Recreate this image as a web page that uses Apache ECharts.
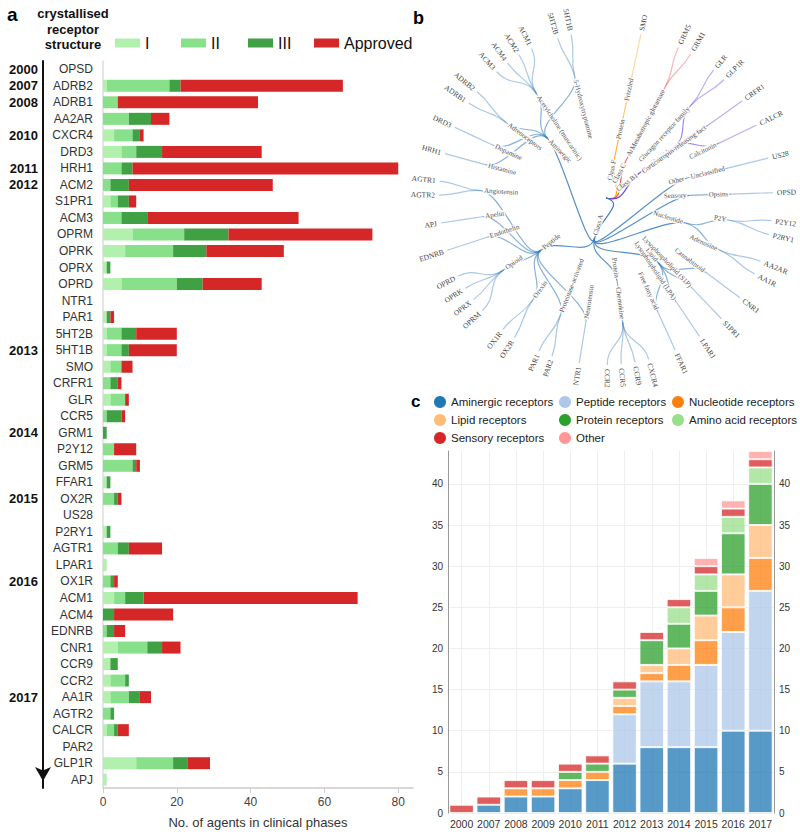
<!DOCTYPE html>
<html>
<head>
<meta charset="utf-8">
<title>GPCR structures and clinical agents</title>
<script src="https://cdn.jsdelivr.net/npm/echarts@6/dist/echarts.min.js"></script>
<style>
  html, body { margin: 0; padding: 0; background: #fff; }
  #chart { width: 800px; height: 837px; }
</style>
</head>
<body>
<div id="chart"></div>
<script>
// ---- panel a: agents per receptor, ordered by year of first structure
const receptors = ['OPSD', 'ADRB2', 'ADRB1', 'AA2AR', 'CXCR4', 'DRD3', 'HRH1', 'ACM2', 'S1PR1', 'ACM3',
  'OPRM', 'OPRK', 'OPRX', 'OPRD', 'NTR1', 'PAR1', '5HT2B', '5HT1B', 'SMO', 'CRFR1',
  'GLR', 'CCR5', 'GRM1', 'P2Y12', 'GRM5', 'FFAR1', 'OX2R', 'US28', 'P2RY1', 'AGTR1',
  'LPAR1', 'OX1R', 'ACM1', 'ACM4', 'EDNRB', 'CNR1', 'CCR9', 'CCR2', 'AA1R', 'AGTR2',
  'CALCR', 'PAR2', 'GLP1R', 'APJ'];
const phaseI = [0, 1, 0, 0, 3, 5, 0, 0, 2, 0, 8, 6, 1, 5, 0, 1, 1, 1, 2, 0,
  2, 0, 0, 0, 0, 1, 0, 0, 1, 0, 1, 0, 3, 0, 0, 4, 2, 2, 2, 0, 1, 0, 9, 1];
const phaseII = [0, 17, 4, 7, 5, 4, 5, 2, 2, 5, 14, 13, 0, 15, 0, 0, 4, 4, 3, 2,
  4, 1, 0, 3, 8, 0, 3, 0, 0, 4, 0, 2, 3, 0, 1, 8, 0, 4, 5, 2, 2, 0, 10, 0];
const phaseIII = [0, 3, 0, 6, 2, 7, 3, 5, 3, 7, 12, 9, 1, 7, 0, 1, 4, 2, 0, 2,
  0, 4, 1, 0, 1, 1, 1, 0, 1, 3, 0, 1, 5, 3, 2, 4, 2, 1, 3, 1, 1, 0, 4, 0];
const approved = [0, 44, 38, 5, 1, 27, 72, 39, 2, 41, 39, 21, 0, 16, 0, 1, 11, 13, 3, 1,
  1, 1, 0, 6, 1, 0, 1, 0, 0, 9, 0, 1, 58, 16, 3, 5, 0, 0, 3, 0, 3, 0, 6, 0];
const yearReceptors = ['OPSD', 'ADRB2', 'ADRB1', 'CXCR4', 'HRH1', 'ACM2', '5HT1B', 'GRM1', 'OX2R', 'OX1R', 'AA1R'];
const yearLabels = ['2000', '2007', '2008', '2010', '2011', '2012', '2013', '2014', '2015', '2016', '2017'];

// ---- panel b: receptor classification, listed clockwise from the top
const treeRows = [
  ['Class F', 'Protein', 'Frizzled', 'SMO'],
  ['Class C', 'Amino acid', 'Metabotropic glutamate', 'GRM5'],
  ['Class C', 'Amino acid', 'Metabotropic glutamate', 'GRM1'],
  ['Class B1', 'Peptide', 'Glucagon receptor family', 'GLR'],
  ['Class B1', 'Peptide', 'Glucagon receptor family', 'GLP1R'],
  ['Class B1', 'Peptide', 'Corticotropin-releasing fact', 'CRFR1'],
  ['Class B1', 'Peptide', 'Calcitonin', 'CALCR'],
  ['Class A', 'Other', 'Unclassified', 'US28'],
  ['Class A', 'Sensory', 'Opsins', 'OPSD'],
  ['Class A', 'Nucleotide', 'P2Y', 'P2Y12'],
  ['Class A', 'Nucleotide', 'P2Y', 'P2RY1'],
  ['Class A', 'Nucleotide', 'Adenosine', 'AA2AR'],
  ['Class A', 'Nucleotide', 'Adenosine', 'AA1R'],
  ['Class A', 'Lipid', 'Cannabinoid', 'CNR1'],
  ['Class A', 'Lipid', 'Lysophospholipid (S1P)', 'S1PR1'],
  ['Class A', 'Lipid', 'Lysophospholipid (LPA)', 'LPAR1'],
  ['Class A', 'Lipid', 'Free fatty acid', 'FFAR1'],
  ['Class A', 'Protein', 'Chemokine', 'CXCR4'],
  ['Class A', 'Protein', 'Chemokine', 'CCR9'],
  ['Class A', 'Protein', 'Chemokine', 'CCR5'],
  ['Class A', 'Protein', 'Chemokine', 'CCR2'],
  ['Class A', 'Peptide', 'Neurotensin', 'NTR1'],
  ['Class A', 'Peptide', 'Proteinase-activated', 'PAR2'],
  ['Class A', 'Peptide', 'Proteinase-activated', 'PAR1'],
  ['Class A', 'Peptide', 'Orexin', 'OX2R'],
  ['Class A', 'Peptide', 'Orexin', 'OX1R'],
  ['Class A', 'Peptide', 'Opioid', 'OPRM'],
  ['Class A', 'Peptide', 'Opioid', 'OPRX'],
  ['Class A', 'Peptide', 'Opioid', 'OPRK'],
  ['Class A', 'Peptide', 'Opioid', 'OPRD'],
  ['Class A', 'Peptide', 'Endothelin', 'EDNRB'],
  ['Class A', 'Peptide', 'Apelin', 'APJ'],
  ['Class A', 'Peptide', 'Angiotensin', 'AGTR2'],
  ['Class A', 'Peptide', 'Angiotensin', 'AGTR1'],
  ['Class A', 'Aminergic', 'Histamine', 'HRH1'],
  ['Class A', 'Aminergic', 'Dopamine', 'DRD3'],
  ['Class A', 'Aminergic', 'Adrenoceptors', 'ADRB1'],
  ['Class A', 'Aminergic', 'Adrenoceptors', 'ADRB2'],
  ['Class A', 'Aminergic', 'Acetylcholine (muscarinic)', 'ACM3'],
  ['Class A', 'Aminergic', 'Acetylcholine (muscarinic)', 'ACM4'],
  ['Class A', 'Aminergic', 'Acetylcholine (muscarinic)', 'ACM2'],
  ['Class A', 'Aminergic', 'Acetylcholine (muscarinic)', 'ACM1'],
  ['Class A', 'Aminergic', '5-Hydroxytryptamine', '5HT2B'],
  ['Class A', 'Aminergic', '5-Hydroxytryptamine', '5HT1B']
];

// ---- panel c: cumulative crystallised receptors per year
const years = ['2000', '2007', '2008', '2009', '2010', '2011', '2012', '2013', '2014', '2015', '2016', '2017'];
const aminergic = [0, 1, 2, 2, 3, 4, 6, 8, 8, 8, 10, 10];
const peptide = [0, 0, 0, 0, 0, 0, 6, 8, 8, 10, 12, 17];
const nucleotide = [0, 0, 1, 1, 1, 1, 1, 1, 2, 3, 3, 4];
const lipid = [0, 0, 0, 0, 0, 0, 1, 1, 2, 3, 4, 4];
const protein = [0, 0, 0, 0, 1, 1, 1, 3, 3, 3, 5, 5];
const aminoAcid = [0, 0, 0, 0, 0, 0, 0, 0, 2, 2, 2, 2];
const sensory = [1, 1, 1, 1, 1, 1, 1, 1, 1, 1, 1, 1];
const other = [0, 0, 0, 0, 0, 0, 0, 0, 0, 1, 1, 1];

const phaseColors = ['#b2f0ae', '#89e08b', '#40a044', '#d62728'];
const classColors = { 'Class F': '#ffa31a', 'Class C': '#e8585b', 'Class B1': '#5d40dc', 'Class A': '#3a7dbf' };
const levelOpacity = [1, 0.85, 0.6, 0.42];

const yearOf = {};
yearReceptors.forEach((r, i) => { yearOf[r] = yearLabels[i]; });

function buildTree(rows) {
  const root = { name: '', label: { show: false }, children: [] };
  rows.forEach(row => {
    let parent = root;
    row.forEach((name, depth) => {
      let node = parent.children.find(c => c.name === name);
      if (!node) {
        node = { name: name, lineStyle: { color: classColors[row[0]], opacity: levelOpacity[depth] } };
        if (depth < row.length - 1) node.children = [];
        parent.children.push(node);
      }
      parent = node;
    });
  });
  return root;
}

const chart = echarts.init(document.getElementById('chart'), null, { renderer: 'svg' });

const phaseSeries = [['I', phaseI], ['II', phaseII], ['III', phaseIII], ['Approved', approved]].map((s, i) => ({
  name: s[0],
  type: 'bar',
  stack: 'phase',
  xAxisIndex: 0,
  yAxisIndex: 0,
  barWidth: 12,
  data: s[1],
  itemStyle: { color: phaseColors[i] }
}));

const groupSeries = [
  ['Aminergic receptors', aminergic, '#1f77b4'],
  ['Peptide receptors', peptide, '#aec7e8'],
  ['Nucleotide receptors', nucleotide, '#ff7f0e'],
  ['Lipid receptors', lipid, '#ffbb78'],
  ['Protein receptors', protein, '#2ca02c'],
  ['Amino acid receptors', aminoAcid, '#98df8a'],
  ['Sensory receptors', sensory, '#d62728'],
  ['Other', other, '#ff9896']
].map(s => ({
  name: s[0],
  type: 'bar',
  stack: 'year',
  xAxisIndex: 1,
  yAxisIndex: 2,
  barCategoryGap: '10%',
  data: s[1].map(v => v || '-'),
  itemStyle: { color: s[2], opacity: 0.75, borderColor: '#fff', borderWidth: 1 }
}));

const legendA = { icon: 'rect', itemWidth: 25, itemHeight: 9, padding: 0, selectedMode: false,
  textStyle: { fontSize: 16, color: '#111' } };
const legendC = { orient: 'vertical', icon: 'circle', itemWidth: 12, itemHeight: 12, itemGap: 6, padding: 0,
  selectedMode: false, top: 396, textStyle: { fontSize: 11.5, color: '#222' },
  itemStyle: { opacity: 1, borderWidth: 0 } };

const option = {
  animation: false,
  textStyle: { fontFamily: 'Liberation Sans, Arial, sans-serif' },
  graphic: [
    { type: 'text', x: 7, y: 5, style: { text: 'a', fontSize: 19, fontWeight: 'bold', fill: '#000' } },
    { type: 'text', x: 73, y: 6, style: { text: 'crystallised\nreceptor\nstructure', textAlign: 'center', align: 'center',
      fontSize: 13, fontWeight: 'bold', lineHeight: 15.5, fill: '#111' } },
    { type: 'text', x: 413, y: 9, style: { text: 'b', fontSize: 18, fontWeight: 'bold', fill: '#000' } },
    { type: 'text', x: 411, y: 393, style: { text: 'c', fontSize: 17, fontWeight: 'bold', fill: '#000' } }
  ],
  legend: [
    Object.assign({ data: ['I'], left: 115, top: 35 }, legendA),
    Object.assign({ data: ['II'], left: 181, top: 35 }, legendA),
    Object.assign({ data: ['III'], left: 248, top: 35 }, legendA),
    Object.assign({ data: ['Approved'], left: 314, top: 35 }, legendA),
    Object.assign({ data: ['Aminergic receptors', 'Lipid receptors', 'Sensory receptors'], left: 434 }, legendC),
    Object.assign({ data: ['Peptide receptors', 'Protein receptors', 'Other'], left: 559 }, legendC),
    Object.assign({ data: ['Nucleotide receptors', 'Amino acid receptors'], left: 672 }, legendC)
  ],
  grid: [
    { left: 103, top: 61, width: 310, height: 727, outerBoundsMode: 'none' },
    { left: 448, top: 451, width: 326, height: 362, outerBoundsMode: 'none' }
  ],
  xAxis: [
    {
      gridIndex: 0, type: 'value', min: 0, max: 84, interval: 20,
      axisLine: { show: true, lineStyle: { color: '#ccc', width: 1.5 } },
      axisTick: { show: true, length: 5, lineStyle: { color: '#ccc' } },
      axisLabel: { fontSize: 12, color: '#444', margin: 8, showMaxLabel: false },
      splitLine: { show: false },
      name: 'No. of agents in clinical phases', nameLocation: 'middle', nameGap: 28,
      nameTextStyle: { fontSize: 13, color: '#333' }
    },
    {
      gridIndex: 1, type: 'category', data: years,
      axisLine: { show: false }, axisTick: { show: false },
      axisLabel: { interval: 0, fontSize: 10.5, color: '#333', margin: 5 },
      splitLine: { show: true, interval: 0, alignWithLabel: true, lineStyle: { color: '#eee' } }
    }
  ],
  yAxis: [
    {
      gridIndex: 0, type: 'category', data: receptors, inverse: true,
      axisLine: { lineStyle: { color: '#ddd', width: 1.5 } },
      axisTick: { alignWithLabel: true, interval: 0, length: 4, lineStyle: { color: '#555' } },
      axisLabel: { interval: 0, fontSize: 12, color: '#333', margin: 10 }
    },
    {
      gridIndex: 0, type: 'category', data: receptors, inverse: true, position: 'left', offset: 60,
      axisLine: { show: true, lineStyle: { color: '#111', width: 2 }, symbol: ['arrow', 'none'],
        symbolSize: [12, 14], symbolOffset: [7, 0] },
      axisTick: { show: false },
      axisLabel: { interval: 0, formatter: v => yearOf[v] || '', fontSize: 13, fontWeight: 'bold', color: '#111', margin: 5 }
    },
    {
      gridIndex: 1, type: 'value', min: 0, max: 44, interval: 5, position: 'left',
      axisLine: { show: true, lineStyle: { color: '#999' } }, axisTick: { show: false },
      axisLabel: { fontSize: 10, color: '#333', margin: 5, showMaxLabel: false },
      splitLine: { show: true, showMaxLine: false, lineStyle: { color: '#eee' } }
    },
    {
      gridIndex: 1, type: 'value', min: 0, max: 44, interval: 5, position: 'right',
      axisLine: { show: true, lineStyle: { color: '#999' } }, axisTick: { show: false },
      axisLabel: { fontSize: 10, color: '#333', margin: 5, showMaxLabel: false },
      splitLine: { show: false }
    }
  ],
  series: phaseSeries.concat(groupSeries, [{
    type: 'tree',
    layout: 'radial',
    data: [buildTree(treeRows)],
    left: 439, top: 31, width: 334, height: 334,
    initialTreeDepth: -1,
    expandAndCollapse: false,
    roam: false,
    symbol: 'circle',
    symbolSize: 0.1,
    itemStyle: { color: 'transparent', borderWidth: 0 },
    lineStyle: { width: 1.2, curveness: 0.5 },
    label: { fontFamily: 'Liberation Serif, serif', fontSize: 7, color: '#555', distance: 2,
      backgroundColor: 'rgba(255,255,255,0.85)', padding: [0, 1] },
    leaves: {
      symbol: 'emptyCircle', symbolSize: 5,
      itemStyle: { color: '#aaa', borderWidth: 1 },
      label: { fontSize: 7.5, color: '#444', distance: 3, backgroundColor: 'transparent' }
    },
    emphasis: { disabled: true }
  }])
};

chart.setOption(option);
</script>
</body>
</html>
